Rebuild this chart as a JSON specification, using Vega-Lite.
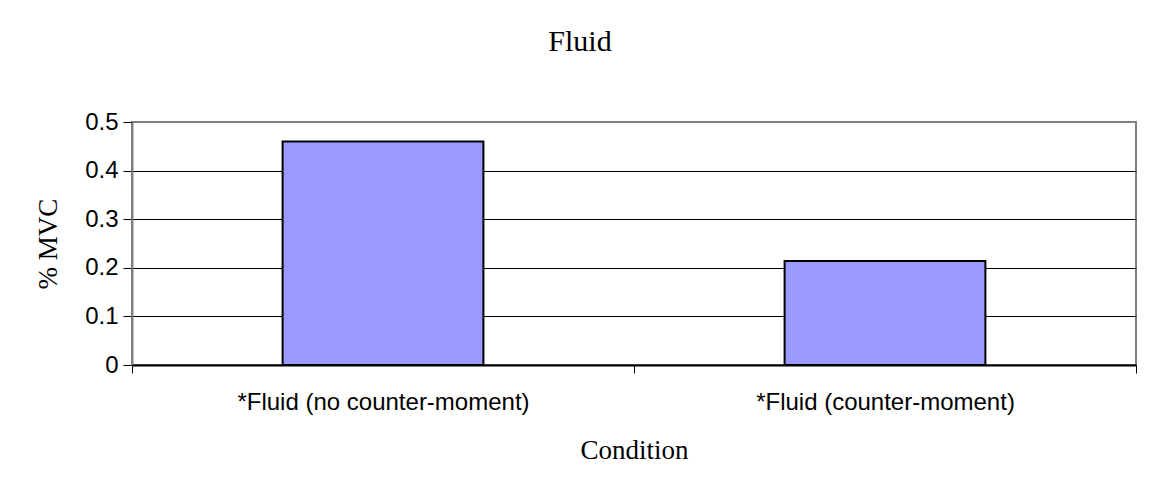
{
  "$schema": "https://vega.github.io/schema/vega-lite/v6.json",
  "width": 1004,
  "height": 243,
  "autosize": {"type": "none"},
  "padding": {"left": 132, "top": 122, "right": 21, "bottom": 130},
  "background": "white",
  "title": {
    "text": "Fluid",
    "font": "Liberation Serif",
    "fontSize": 30,
    "fontWeight": "normal",
    "color": "black",
    "anchor": "middle",
    "dx": -54,
    "offset": 53
  },
  "data": {
    "values": [
      {"condition": "*Fluid (no counter-moment)", "mvc": 0.46},
      {"condition": "*Fluid (counter-moment)", "mvc": 0.214}
    ]
  },
  "mark": {"type": "bar", "fill": "#9999FF", "stroke": "black", "strokeWidth": 2, "width": {"band": 0.4}},
  "encoding": {
    "x": {
      "field": "condition",
      "type": "nominal",
      "sort": null,
      "title": "Condition",
      "scale": {"paddingInner": 0, "paddingOuter": 0},
      "axis": {
        "labelAngle": 0,
        "labelLimit": 0,
        "tickBand": "extent",
        "tickSize": 8,
        "tickColor": "black",
        "domainColor": "black",
        "domainWidth": 2,
        "labelFont": "Liberation Sans",
        "labelFontSize": 24,
        "labelColor": "black",
        "labelBaseline": "alphabetic",
        "labelPadding": 36,
        "grid": false,
        "titleFont": "Liberation Serif",
        "titleFontSize": 27,
        "titleFontWeight": "normal",
        "titleColor": "black",
        "titleBaseline": "alphabetic",
        "titleY": 93,
        "zindex": 1
      }
    },
    "y": {
      "field": "mvc",
      "type": "quantitative",
      "title": "% MVC",
      "scale": {"domain": [0, 0.5]},
      "axis": {
        "values": [0, 0.1, 0.2, 0.3, 0.4, 0.5],
        "format": "~g",
        "gridColor": {"condition": {"test": "datum.value == 0.5", "value": "#808080"}, "value": "black"},
        "gridWidth": 1,
        "domainColor": "#808080",
        "domainWidth": 2,
        "tickColor": "black",
        "tickSize": 9,
        "labelPadding": 5,
        "labelFont": "Liberation Sans",
        "labelFontSize": 24,
        "labelColor": "black",
        "titleFont": "Liberation Serif",
        "titleFontSize": 27,
        "titleFontWeight": "normal",
        "titleColor": "black",
        "titleAngle": -90,
        "titleBaseline": "alphabetic",
        "titleX": -76,
        "titleY": 121.5
      }
    }
  },
  "config": {"view": {"stroke": "#808080", "strokeWidth": 2}}
}
